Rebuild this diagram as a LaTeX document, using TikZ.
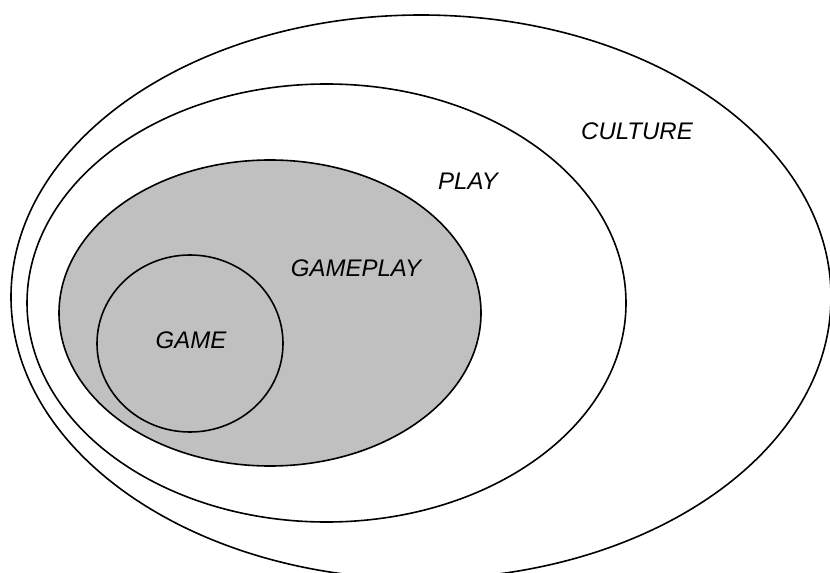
\documentclass[tikz,border=0pt]{standalone}
\usepackage{fontspec}
\setmainfont{Liberation Sans}

\tikzset{every picture/.style={line width=1.2pt}}
\tikzset{
	setlabel/.style={font=\fontsize{18}{21}\selectfont\itshape},
	setline/.style={draw={rgb, 255:red, 0; green, 0; blue, 0 }}}

\begin{document}
\begin{tikzpicture}[x=0.75pt,y=0.75pt,yscale=-1,xscale=1]
	\useasboundingbox (0,0) rectangle (830,573);

	%Shape: Ellipse [culture]
	\draw [setline] (421,297) ellipse (410 and 282);
	%Shape: Ellipse [play]
	\draw [setline] (326.5,303) ellipse (299.5 and 219);
	%Shape: Ellipse [gameplay]
	\draw [setline, fill={rgb, 255:red, 192; green, 192; blue, 192 }] (270,313) ellipse (211 and 153);
	%Shape: Ellipse [game]
	\draw [setline] (190,343.5) ellipse (93 and 88.5);

	% Text Node
	\draw (637,131) node [setlabel] (culture) {CULTURE};
	% Text Node
	\draw (468,181) node [setlabel] (play) {PLAY};
	% Text Node
	\draw (356,268) node [setlabel] (gameplay) {GAMEPLAY};
	% Text Node
	\draw (191,340) node [setlabel] (game) {GAME};

\end{tikzpicture}
\end{document}
